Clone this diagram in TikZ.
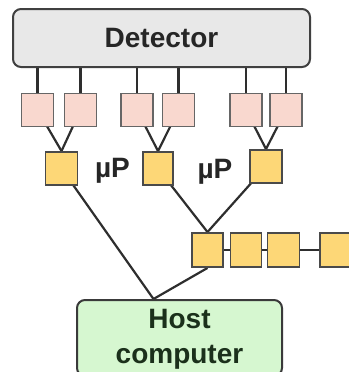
\documentclass[tikz,border=0pt]{standalone}
\usepackage{fontspec}
\setmainfont{Liberation Sans}
\usetikzlibrary{backgrounds,calc}
\definecolor{detfill}{HTML}{E8E8E8}
\definecolor{detline}{HTML}{404040}
\definecolor{pinkfill}{HTML}{F9D8CF}
\definecolor{pinkline}{HTML}{666666}
\definecolor{yelfill}{HTML}{FDD777}
\definecolor{yelline}{HTML}{4A4A4A}
\definecolor{greenfill}{HTML}{D6F7D0}
\definecolor{greenline}{HTML}{3A3A3A}
\definecolor{greentext}{HTML}{1B301B}
\definecolor{wire}{HTML}{2E2E2E}
\tikzset{
  detbox/.style={draw=detline, fill=detfill, line width=2pt, rounded corners=8pt,
    minimum width=297pt, minimum height=58pt, inner sep=0pt,
    font=\bfseries\fontsize{28}{33}\selectfont, text=black!85},
  pinkbox/.style={draw=pinkline, fill=pinkfill, line width=1.9pt,
    minimum width=32pt, minimum height=33pt, inner sep=0pt},
  yelbox/.style={draw=yelline, fill=yelfill, line width=1.9pt,
    minimum width=32pt, minimum height=33pt, inner sep=0pt},
  hostbox/.style={draw=greenline, fill=greenfill, line width=2pt, rounded corners=8pt,
    minimum width=205pt, minimum height=76pt, inner sep=0pt},
  hosttext/.style={inner sep=0pt, align=center, text=greentext,
    font=\bfseries\fontsize{28}{35}\selectfont},
  uplabel/.style={inner sep=0pt, text=black!85, font=\bfseries\fontsize{28}{33}\selectfont},
  wireline/.style={draw=wire, line width=2.2pt}
}
\begin{document}
\begin{tikzpicture}[x=1pt, y=-1pt]
\useasboundingbox (0,0) rectangle (348,372);
% detector
\node[detbox] (det) at (161.5,38) {Detector};
% pink boxes
\node[pinkbox] (p1) at (37.5,110) {};
\node[pinkbox] (p2) at (80.5,110) {};
\node[pinkbox] (p3) at (137,110) {};
\node[pinkbox] (p4) at (178.5,110) {};
\node[pinkbox] (p5) at (246,110) {};
\node[pinkbox] (p6) at (286,110) {};
% yellow processors
\node[yelbox] (y1) at (61.5,168.5) {};
\node[yelbox, minimum width=30pt] (y2) at (158,168.5) {};
\node[yelbox] (y3) at (266,166.5) {};
\node[uplabel] (mu1) at (112.5,171) {µP};
\node[uplabel] (mu2) at (215,172) {µP};
% chain
\node[yelbox, minimum width=31pt, minimum height=34pt] (c1) at (207.5,250) {};
\node[yelbox, minimum width=31pt, minimum height=34pt] (c2) at (246,250) {};
\node[yelbox, minimum width=32pt, minimum height=34pt] (c3) at (283.5,250) {};
\node[yelbox, minimum width=32pt, minimum height=34pt] (c4) at (336,250) {};
% host
\node[hostbox] (host) at (179.5,338) {};
\node[hosttext] (hostlabel) at (179.5,339.5) {Host\\computer};
\coordinate (hj) at ($(host.north)+(-26,0)$);
% connectors
\begin{scope}[on background layer]
  \foreach \p in {p1,p2,p3,p4,p5,p6}
    \draw[wireline] (\p.center) -- (\p.center |- det.south);
  \draw[wireline] (p1.center) -- (y1.north);
  \draw[wireline] (p2.center) -- (y1.north);
  \draw[wireline] (p3.center) -- (y2.north);
  \draw[wireline] (p4.center) -- (y2.north);
  \draw[wireline] (p5.center) -- (y3.north);
  \draw[wireline] (p6.center) -- (y3.north);
  \draw[wireline] (y1.center) -- (hj);
  \draw[wireline] (y2.center) -- (c1.north);
  \draw[wireline] (y3.center) -- (c1.north);
  \draw[wireline] (c1.south) -- (hj);
  \draw[wireline] (c1.east) -- (c2.west);
  \draw[wireline] (c2.east) -- (c3.west);
  \draw[wireline] (c3.east) -- (c4.west);
\end{scope}
\end{tikzpicture}
\end{document}
